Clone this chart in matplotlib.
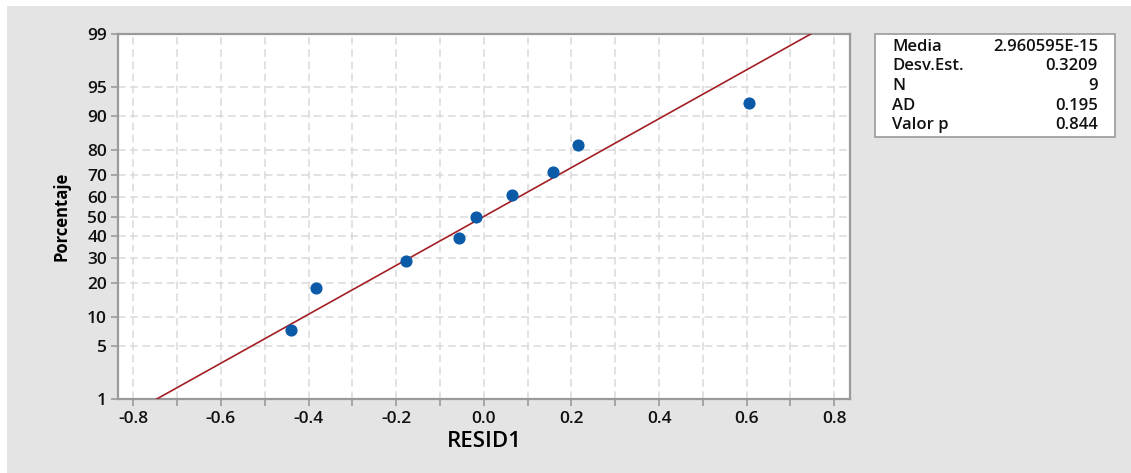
import matplotlib
matplotlib.use("Agg")
import matplotlib.pyplot as plt
import matplotlib.patches as patches
from matplotlib.ticker import FixedLocator, MultipleLocator
import numpy as np
from statistics import NormalDist

plt.rcParams["font.family"] = ["Open Sans", "DejaVu Sans"]
plt.rcParams["axes.unicode_minus"] = False

# residuals (sorted)
resid = [-0.439, -0.384, -0.178, -0.057, -0.017, 0.064, 0.158, 0.216, 0.606]
media = 2.960595e-15
desv = 0.3209
n = 9
ad = 0.195
p_valor = 0.844

y_ticks = [1, 5, 10, 20, 30, 40, 50, 60, 70, 80, 90, 95, 99]
x_ticks = [-0.8, -0.6, -0.4, -0.2, 0.0, 0.2, 0.4, 0.6, 0.8]

stats_labels = ["Media", "Desv.Est.", "N", "AD", "Valor p"]
stats_values = ["2.960595E-15", "0.3209", "9", "0.195", "0.844"]

nd = NormalDist()
_inv = np.vectorize(lambda p: nd.inv_cdf(min(max(p / 100.0, 1e-9), 1 - 1e-9)),
                    otypes=[float])
_cdf = np.vectorize(lambda z: nd.cdf(z) * 100.0, otypes=[float])


def forward(p):
    return _inv(np.asarray(p, dtype=float))


def inverse(z):
    return _cdf(np.asarray(z, dtype=float))


# plotting positions (Minitab style)
ranks = np.arange(1, n + 1)
pct = (ranks - 0.3) / (n + 0.4) * 100

fig = plt.figure(figsize=(11.31, 4.73), dpi=100)
fig.patch.set_facecolor("white")
# gray panel behind everything
fig.patches.append(patches.Rectangle((7 / 1131, 0), 1, 1 - 6 / 473,
                                     transform=fig.transFigure,
                                     facecolor="#e4e4e4", edgecolor="none",
                                     zorder=-1))

ax = fig.add_axes([118 / 1131, 1 - 399 / 473, (850 - 118) / 1131, (399 - 34) / 473])
ax.set_facecolor("white")
ax.set_yscale("function", functions=(forward, inverse))
ax.set_ylim(1, 99)
ax.set_xlim(-0.835, 0.836)

# fitted normal line
line_p = np.linspace(0.5, 99.5, 300)
line_x = [media + desv * nd.inv_cdf(p / 100) for p in line_p]
ax.plot(line_x, line_p, color="#a31f24", lw=1.2, zorder=3)

ax.scatter(resid, pct, s=60, color="#0a5aa8", zorder=4)

ax.yaxis.set_major_locator(FixedLocator(y_ticks))
ax.set_yticklabels([str(t) for t in y_ticks])
ax.yaxis.set_minor_locator(FixedLocator([]))
ax.xaxis.set_major_locator(FixedLocator(x_ticks))
ax.xaxis.set_minor_locator(MultipleLocator(0.1))
ax.set_xticklabels(["%.1f" % t for t in x_ticks])

ax.grid(True, which="both", color="#dadada", linestyle=(0, (5, 3)), lw=1.1)
ax.set_axisbelow(True)
for s in ax.spines.values():
    s.set_color("#9a9a9a")
    s.set_linewidth(1.6)
ax.tick_params(which="both", color="#9a9a9a", width=1.2, length=5, labelsize=12.5,
               labelcolor="#111111")
ax.tick_params(axis="y", which="major", pad=3)
for lab in ax.get_xticklabels() + ax.get_yticklabels():
    lab.set_fontweight("semibold")

ax.set_xlabel("RESID1", fontsize=16, fontweight="semibold", labelpad=3)
ax.set_ylabel("Porcentaje", fontsize=12, fontweight="bold", labelpad=12)

# stats box
box = patches.Rectangle((875 / 1131, 1 - 137 / 473), 240 / 1131, 103 / 473,
                        transform=fig.transFigure, facecolor="white",
                        edgecolor="#9a9a9a", lw=1.2)
fig.patches.append(box)
for i, (lab, val) in enumerate(zip(stats_labels, stats_values)):
    yy = 1 - (47 + i * 19.5) / 473
    fig.text(892 / 1131, yy, lab, fontsize=12, fontweight="semibold",
             va="center", ha="left", color="#111111")
    fig.text(1098 / 1131, yy, val, fontsize=12, fontweight="semibold",
             va="center", ha="right", color="#111111")

fig.savefig("out.png", dpi=100)
